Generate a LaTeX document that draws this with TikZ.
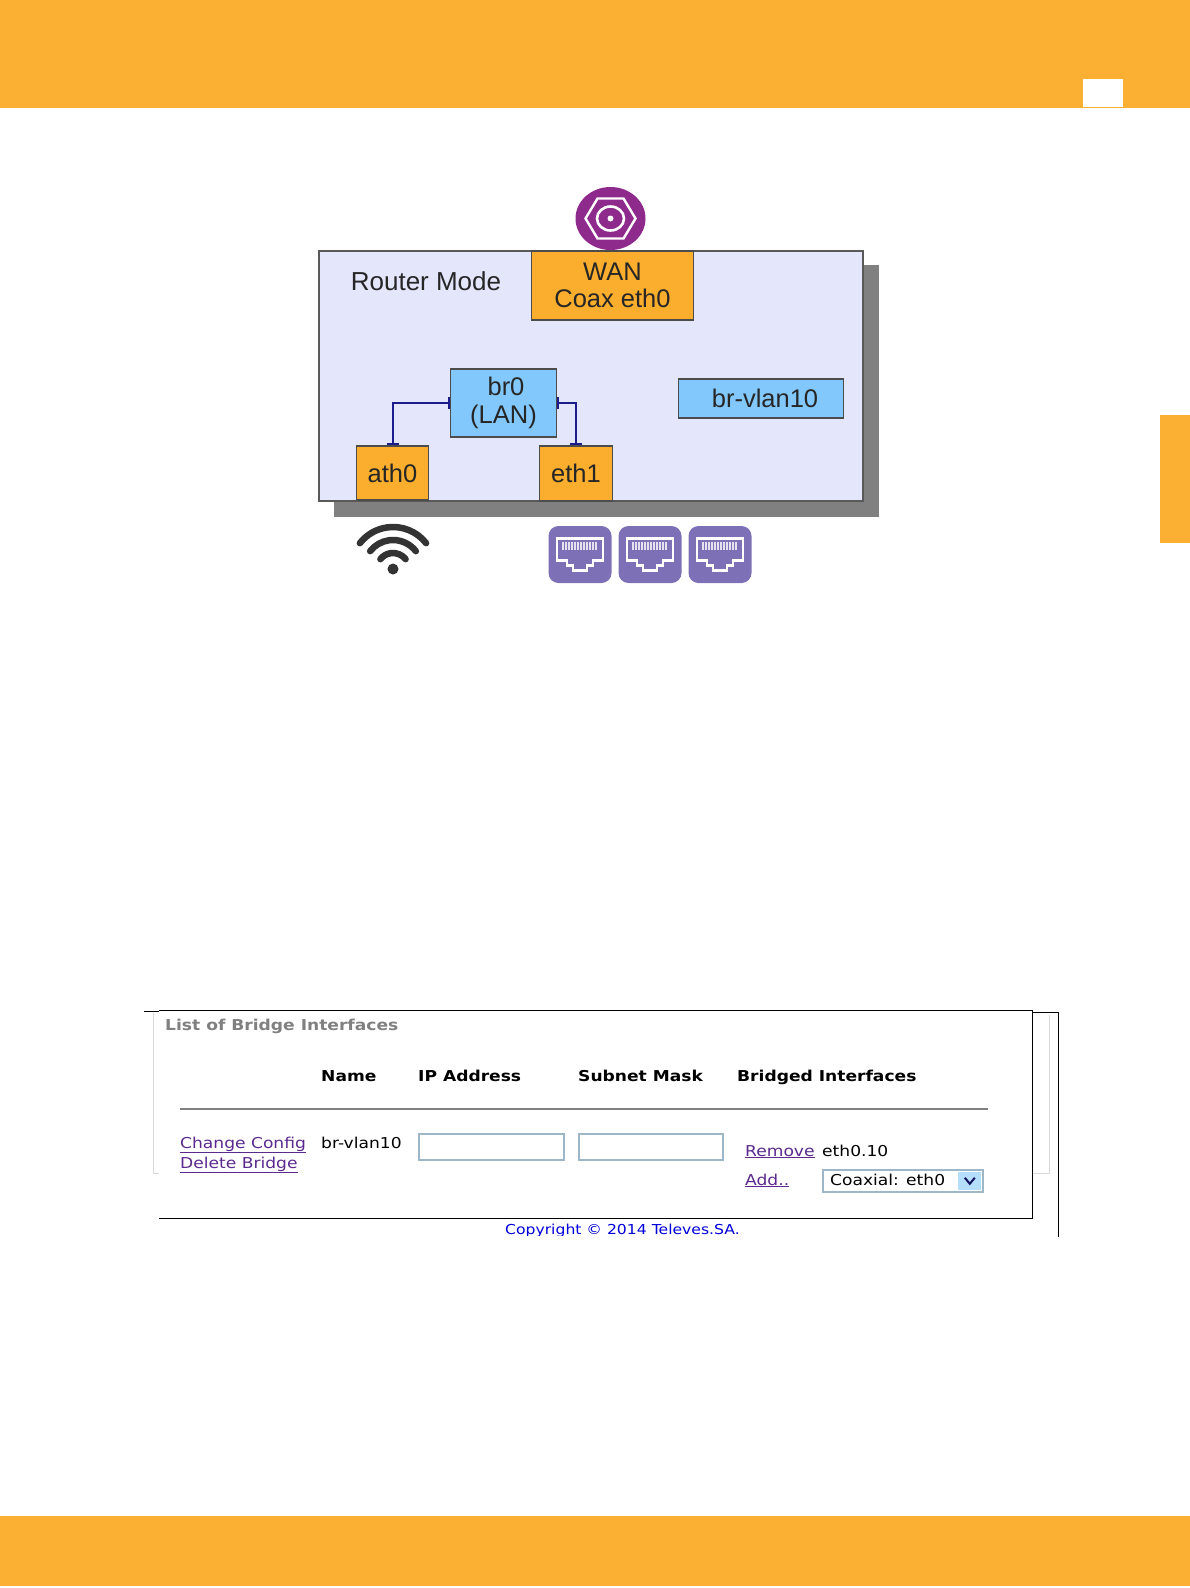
\documentclass[tikz,border=0pt]{standalone}
\usepackage{fontspec}
\setmainfont{Liberation Sans}
\newfontfamily\screenfont[FakeStretch=1.14]{DejaVu Sans}
\usepackage{tikz}
\usetikzlibrary{shapes,shapes.geometric,arrows,arrows.meta,calc,positioning}
\definecolor{bandcol}{HTML}{FBB034}
\definecolor{boxcol}{HTML}{FBAE2D}
\definecolor{bluecol}{HTML}{83C8FC}
\definecolor{routercol}{HTML}{E4E6FB}
\definecolor{linkcol}{HTML}{5A2A8E}
\definecolor{tilecol}{HTML}{7D70B6}
\definecolor{coaxcol}{HTML}{8E2A8C}
\definecolor{wirecol}{HTML}{1C1C8C}
\definecolor{fieldcol}{HTML}{9DB6C8}
\tikzset{ifbox/.style={draw=black!70,fill=boxcol,line width=1.5pt,inner sep=0pt,align=center,text=black!85,font=\fontsize{25.5}{27.5}\selectfont}}
\tikzset{brbox/.style={ifbox,fill=bluecol}}
\tikzset{tile/.style={fill=tilecol,rounded corners=10pt,minimum width=63pt,minimum height=57pt,inner sep=0pt}}
\tikzset{screentext/.style={anchor=base west,inner sep=0pt,font=\screenfont\fontsize{15}{18}\selectfont}}
\tikzset{headtext/.style={screentext,font=\screenfont\bfseries\fontsize{15}{18}\selectfont}}
\tikzset{linktext/.style={screentext,text=linkcol}}
\tikzset{field/.style={draw=fieldcol,line width=1.5pt,fill=white,inner sep=0pt,minimum height=26pt}}
\begin{document}
\begin{tikzpicture}[x=1pt, y=1pt, >={Bar[width=12pt,length=1.5pt]}, node distance=100pt]
\useasboundingbox (0,0) rectangle (1190,-1588);
\fill[bandcol] (0,0) rectangle (1190,-108);
\fill[white] (1083,-79) rectangle (1123,-107);
\fill[bandcol] (1160,-415) rectangle (1190,-543);
\fill[bandcol] (0,-1516) rectangle (1190,-1586);
\fill[black!50] (334,-265) rectangle (879,-517);
\node[draw=black!65, fill=routercol, line width=1.5pt, minimum width=544pt, minimum height=250pt, inner sep=0pt] (router) at (591,-376) {};
\node[inner sep=0pt, text=black!85, font=\fontsize{26}{27.5}\selectfont] (mode) at (426,-281.5) {Router Mode};
\node[ifbox, minimum width=162pt, minimum height=69pt] (wan) at (612.5,-285.5) {WAN\\Coax eth0};
\node[brbox, minimum width=106pt, minimum height=68pt, xshift=-109pt][below of =wan, node distance=117.5pt] (br0) {\hspace*{5pt}br0\\(LAN)};
\node[brbox, minimum width=165pt, minimum height=39pt, xshift=148.5pt][below of =wan, node distance=113pt] (vlan) {\hspace*{8pt}br-vlan10};
\node[ifbox, minimum width=72pt, minimum height=54pt, xshift=-111pt][below of =br0, node distance=70pt] (ath0) {ath0};
\node[ifbox, minimum width=73pt, minimum height=55pt, xshift=72.5pt][below of =br0, node distance=70.5pt] (eth1) {eth1};
\draw[<->, wirecol, line width=2pt] (br0.west) -| (ath0.north);
\draw[<->, wirecol, line width=2pt] (br0.east) -| (eth1.north);
\node[ellipse, fill=coaxcol, minimum width=70pt, minimum height=63pt, inner sep=0pt] (coax) at (610.5,-218.5) {};
\draw[white, line width=2.4pt] ($(coax)+(-25,0)$) -- ($(coax)+(-13,20)$) -- ($(coax)+(13,20)$) -- ($(coax)+(25,0)$) -- ($(coax)+(13,-20)$) -- ($(coax)+(-13,-20)$) -- cycle;
\node[ellipse, draw=white, line width=2.6pt, minimum width=27pt, minimum height=24pt, inner sep=0pt] (coaxring) at (coax) {};
\fill[white] (coax) circle (3pt);
\coordinate (wifi) at (393,-569);
\fill[black!80] (wifi) circle (5.5pt);
\foreach \r in {16,29,42}
  \draw[black!80, line width=6.5pt, line cap=round] ($(wifi)+(38:\r)$) arc (38:142:\r);
\foreach \n/\x in {lana/580, lanb/650, lanc/720}{
  \node[tile] (\n) at (\x,-554.5) {};
  \draw[white, line width=2.8pt, line join=miter] ($(\n)+(-23,16)$) -- ($(\n)+(23,16)$) -- ($(\n)+(23,-6)$) -- ($(\n)+(13,-6)$) -- ($(\n)+(13,-11)$) -- ($(\n)+(7,-11)$) -- ($(\n)+(7,-16)$) -- ($(\n)+(-7,-16)$) -- ($(\n)+(-7,-11)$) -- ($(\n)+(-13,-11)$) -- ($(\n)+(-13,-6)$) -- ($(\n)+(-23,-6)$) -- cycle;
  \foreach \p in {-17,-14,...,17}
    \draw[white!80!tilecol, line width=1.3pt] ($(\n)+(\p,13)$) -- ($(\n)+(\p,5)$);
}
\draw[black!15, line width=1pt] (153,-1013) -- (153,-1173) -- (165,-1173);
\draw[black!15, line width=1pt] (1049,-1015) -- (1049,-1173) -- (1025,-1173);
\draw[black, line width=1pt] (144,-1011) -- (159,-1011);
\draw[black, line width=1pt] (1032,-1012) -- (1058,-1012) -- (1058,-1237);
\fill[white] (159,-1010) rectangle (1032,-1218);
\draw[black, line width=1pt] (159,-1010) -- (1032,-1010) -- (1032,-1218) -- (159,-1218);
\node[headtext, text=black!50] (title) at (165,-1030) {List of Bridge Interfaces};
\node[headtext] (hname) at (321,-1081) {Name};
\node[headtext] (hip) at (418,-1081) {IP Address};
\node[headtext] (hmask) at (578,-1081) {Subnet Mask};
\node[headtext] (hbridged) at (737,-1081) {Bridged Interfaces};
\draw[black!50, line width=2pt] (180,-1109) -- (988,-1109);
\node[linktext] (change) at (180,-1148) {\underline{Change Config}};
\node[linktext] (delete) at (180,-1168) {\underline{Delete Bridge}};
\node[screentext] (brname) at (321,-1148) {br-vlan10};
\node[field, minimum width=145pt, anchor=north west] (ipfield) at (418,-1133) {};
\node[field, minimum width=144pt, anchor=north west] (maskfield) at (578,-1133) {};
\node[linktext] (remove) at (745,-1156) {\underline{Remove}};
\node[screentext] (ethname) at (822,-1156) {eth0.10};
\node[linktext] (add) at (745,-1185) {\underline{Add..}};
\node[field, minimum width=160pt, minimum height=22pt, anchor=north west] (select) at (822,-1169) {};
\node[screentext] (seltext) at (830,-1185) {Coaxial: eth0};
\node[fill=bluecol!60, minimum width=23pt, minimum height=18pt, inner sep=0pt, anchor=east] (selbtn) at ($(select.east)+(-2,0)$) {};
\draw[wirecol!70!black, line width=2pt] ($(selbtn)+(-5,3)$) -- ($(selbtn)+(0,-3)$) -- ($(selbtn)+(5,3)$);
\begin{scope}
\clip (400,-1210) rectangle (850,-1235);
\node[screentext, text=blue!85!black, font=\screenfont\fontsize{13.7}{18}\selectfont] (copy) at (505,-1234) {Copyright © 2014 Televes.SA.};
\end{scope}
\end{tikzpicture}
\end{document}
